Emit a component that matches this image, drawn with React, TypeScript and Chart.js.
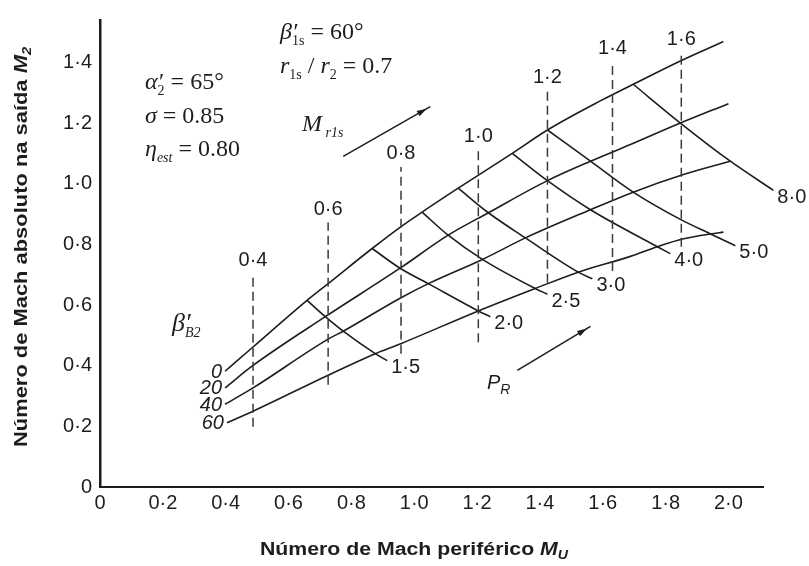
import React, { useEffect, useRef } from 'react';
import { Chart, registerables } from 'chart.js';

Chart.register(...registerables);

// ---- Data: outlet absolute Mach number M2 versus peripheral Mach number MU ----

// Curves of constant blade angle beta'_B2 (degrees)
const betaLabels = ['0', '20', '40', '60'];
const beta0X = [0.398, 0.487, 0.659, 0.726, 0.866, 0.955, 1.025, 1.14, 1.312, 1.424, 1.592, 1.697, 1.847, 1.984];
const beta0Y = [0.382, 0.462, 0.616, 0.671, 0.787, 0.857, 0.907, 0.986, 1.101, 1.178, 1.274, 1.329, 1.406, 1.47];
const beta20X = [0.398, 0.487, 0.717, 0.955, 1.108, 1.236, 1.424, 1.561, 1.688, 1.847, 2.0];
const beta20Y = [0.327, 0.401, 0.562, 0.722, 0.831, 0.905, 1.011, 1.075, 1.13, 1.201, 1.265];
const beta40X = [0.398, 0.487, 0.726, 0.774, 0.955, 1.045, 1.217, 1.354, 1.561, 1.697, 1.857, 2.006];
const beta40Y = [0.273, 0.327, 0.488, 0.514, 0.623, 0.671, 0.751, 0.822, 0.915, 0.973, 1.031, 1.075];
const beta60X = [0.404, 0.487, 0.726, 0.876, 0.955, 1.204, 1.385, 1.522, 1.688, 1.774, 1.857, 1.943, 1.984];
const beta60Y = [0.212, 0.25, 0.369, 0.44, 0.472, 0.581, 0.655, 0.709, 0.761, 0.793, 0.819, 0.835, 0.841];

// Curves of constant pressure ratio P_R
const prLabels = ['1·5', '2·0', '2·5', '3·0', '4·0', '5·0', '8·0'];
const pr15X = [0.659, 0.717, 0.774, 0.876, 0.914];
const pr15Y = [0.616, 0.562, 0.514, 0.44, 0.417];
const pr20X = [0.866, 0.955, 1.045, 1.204, 1.242];
const pr20Y = [0.787, 0.722, 0.671, 0.581, 0.562];
const pr25X = [1.025, 1.108, 1.217, 1.385, 1.424];
const pr25Y = [0.907, 0.831, 0.751, 0.655, 0.636];
const pr30X = [1.14, 1.236, 1.354, 1.522, 1.567];
const pr30Y = [0.986, 0.905, 0.822, 0.709, 0.687];
const pr40X = [1.312, 1.424, 1.561, 1.774, 1.815];
const pr40Y = [1.101, 1.011, 0.915, 0.793, 0.77];
const pr50X = [1.424, 1.561, 1.697, 1.847, 1.943, 2.022];
const pr50Y = [1.178, 1.075, 0.973, 0.883, 0.835, 0.796];
const pr80X = [1.697, 1.847, 2.006, 2.143];
const pr80Y = [1.329, 1.201, 1.075, 0.979];

// Lines of constant inducer relative Mach number M_r1s (dashed)
const mr1sLabels = ['0·4', '0·6', '0·8', '1·0', '1·2', '1·4', '1·6'];
const mr1sX = [0.487, 0.726, 0.958, 1.204, 1.424, 1.631, 1.85];
const mr1sTop = [0.703, 0.873, 1.056, 1.114, 1.307, 1.403, 1.435];
const mr1sBottom = [0.199, 0.337, 0.44, 0.478, 0.674, 0.713, 0.793];

// Axis ticks
const xTickValues = [0, 0.2, 0.4, 0.6, 0.8, 1.0, 1.2, 1.4, 1.6, 1.8, 2.0];
const yTickValues = [0, 0.2, 0.4, 0.6, 0.8, 1.0, 1.2, 1.4];

// Direction arrows (start and end in axis units)
const mr1sArrowX = [0.774, 1.051];
const mr1sArrowY = [1.091, 1.255];
const prArrowX = [1.328, 1.561];
const prArrowY = [0.385, 0.53];

const INK = '#1d1d1d';
const SANS = "'Liberation Sans', Arial, Helvetica, sans-serif";
const SERIF = "'Liberation Serif', 'Times New Roman', serif";

const fmt = (v: number) => (v === 0 ? '0' : v.toFixed(1).replace('.', '\u00B7'));
const pts = (xs: number[], ys: number[]) => xs.map((x, i) => ({ x, y: ys[i] }));

type Run = { t: string; f: string; dy?: number; adv?: number };

function runsWidth(ctx: CanvasRenderingContext2D, runs: Run[]) {
  let w = 0;
  for (const r of runs) {
    ctx.font = r.f;
    w += r.adv !== undefined ? r.adv : ctx.measureText(r.t).width;
  }
  return w;
}

function drawRuns(ctx: CanvasRenderingContext2D, x: number, y: number, runs: Run[]) {
  let cx = x;
  for (const r of runs) {
    ctx.font = r.f;
    ctx.fillText(r.t, cx, y + (r.dy || 0));
    cx += r.adv !== undefined ? r.adv : ctx.measureText(r.t).width;
  }
  return cx;
}

// Centered text, stretched horizontally to a given width
function drawStretched(ctx: CanvasRenderingContext2D, cx: number, baseline: number, width: number, runs: Run[]) {
  const w = runsWidth(ctx, runs);
  const sx = width / w;
  ctx.save();
  ctx.translate(cx, baseline);
  ctx.scale(sx, 1);
  drawRuns(ctx, -w / 2, 0, runs);
  ctx.restore();
}

function arrow(ctx: CanvasRenderingContext2D, x0: number, y0: number, x1: number, y1: number) {
  const a = Math.atan2(y1 - y0, x1 - x0);
  ctx.beginPath();
  ctx.moveTo(x0, y0);
  ctx.lineTo(x1, y1);
  ctx.lineWidth = 1.6;
  ctx.strokeStyle = INK;
  ctx.stroke();
  const L = 10;
  const H = 3;
  const bx = x1 - 4 * Math.cos(a);
  const by = y1 - 4 * Math.sin(a);
  ctx.beginPath();
  ctx.moveTo(bx, by);
  ctx.lineTo(bx - L * Math.cos(a) + H * Math.sin(a), by - L * Math.sin(a) - H * Math.cos(a));
  ctx.lineTo(bx - L * Math.cos(a) - H * Math.sin(a), by - L * Math.sin(a) + H * Math.cos(a));
  ctx.closePath();
  ctx.fillStyle = INK;
  ctx.fill();
}

const betaCurves = [
  { label: betaLabels[0], x: beta0X, y: beta0Y },
  { label: betaLabels[1], x: beta20X, y: beta20Y },
  { label: betaLabels[2], x: beta40X, y: beta40Y },
  { label: betaLabels[3], x: beta60X, y: beta60Y },
];
const prCurves = [
  { label: prLabels[0], x: pr15X, y: pr15Y },
  { label: prLabels[1], x: pr20X, y: pr20Y },
  { label: prLabels[2], x: pr25X, y: pr25Y },
  { label: prLabels[3], x: pr30X, y: pr30Y },
  { label: prLabels[4], x: pr40X, y: pr40Y },
  { label: prLabels[5], x: pr50X, y: pr50Y },
  { label: prLabels[6], x: pr80X, y: pr80Y },
];

const figureText = {
  id: 'figureText',
  afterDatasetsDraw(chart: any) {
    const ctx: CanvasRenderingContext2D = chart.ctx;
    const xs = chart.scales.x;
    const ys = chart.scales.y;
    const px = (v: number) => xs.getPixelForValue(v);
    const py = (v: number) => ys.getPixelForValue(v);
    ctx.save();
    ctx.fillStyle = INK;

    // M_r1s values above dashed lines
    ctx.font = `20px ${SANS}`;
    ctx.textAlign = 'center';
    ctx.textBaseline = 'middle';
    mr1sLabels.forEach((lab, i) => ctx.fillText(lab, px(mr1sX[i]), py(mr1sTop[i]) - 13));

    // P_R values at curve ends
    ctx.textAlign = 'left';
    prCurves.forEach((c) => {
      const n = c.x.length - 1;
      ctx.fillText(c.label, px(c.x[n]) + 4, py(c.y[n]) + 7);
    });

    // beta'_B2 values at curve starts
    ctx.font = `italic 20px ${SANS}`;
    ctx.textAlign = 'right';
    betaCurves.forEach((c) => ctx.fillText(c.label, px(c.x[0]) - 3, py(c.y[0]) + 1));

    // Arrows
    arrow(ctx, px(mr1sArrowX[0]), py(mr1sArrowY[0]), px(mr1sArrowX[1]), py(mr1sArrowY[1]));
    arrow(ctx, px(prArrowX[0]), py(prArrowY[0]), px(prArrowX[1]), py(prArrowY[1]));

    // Parameter annotations
    ctx.textAlign = 'left';
    ctx.textBaseline = 'alphabetic';
    const big = `24px ${SERIF}`;
    const bigI = `italic 24px ${SERIF}`;
    const sub = `italic 14px ${SERIF}`;
    const subU = `14px ${SERIF}`;
    drawRuns(ctx, 145, 89, [
      { t: '\u03B1', f: bigI },
      { t: '\u2032', f: bigI, adv: 0 },
      { t: '2', f: subU, dy: 6 },
      { t: ' = 65\u00B0', f: big },
    ]);
    drawRuns(ctx, 145, 123, [
      { t: '\u03C3', f: bigI },
      { t: ' = 0.85', f: big },
    ]);
    drawRuns(ctx, 145, 156, [
      { t: '\u03B7', f: bigI },
      { t: 'est', f: sub, dy: 6 },
      { t: ' = 0.80', f: big },
    ]);
    drawRuns(ctx, 280, 39, [
      { t: '\u03B2', f: bigI },
      { t: '\u2032', f: bigI, adv: 0 },
      { t: '1s', f: subU, dy: 6 },
      { t: ' = 60\u00B0', f: big },
    ]);
    drawRuns(ctx, 280, 73, [
      { t: 'r', f: bigI },
      { t: '1s', f: subU, dy: 6 },
      { t: ' / ', f: big },
      { t: 'r', f: bigI },
      { t: '2', f: subU, dy: 6 },
      { t: ' = 0.7', f: big },
    ]);
    drawRuns(ctx, 302, 131, [
      { t: 'M', f: bigI },
      { t: ' ', f: subU },
      { t: 'r1s', f: sub, dy: 6 },
    ]);
    drawRuns(ctx, 172, 331, [
      { t: '\u03B2', f: `italic 26px ${SERIF}` },
      { t: '\u2032', f: `italic 26px ${SERIF}`, adv: 0 },
      { t: 'B2', f: sub, dy: 6 },
    ]);
    drawRuns(ctx, 487, 389, [
      { t: 'P', f: `italic 20px ${SANS}` },
      { t: 'R', f: `italic 14px ${SANS}`, dy: 5 },
    ]);

    // Axis titles
    drawStretched(ctx, 414, 555, 308, [
      { t: 'Número de Mach periférico ', f: `bold 18px ${SANS}` },
      { t: 'M', f: `italic bold 18px ${SANS}` },
      { t: 'U', f: `italic bold 12px ${SANS}`, dy: 4 },
    ]);
    ctx.save();
    ctx.translate(20, 247);
    ctx.rotate(-Math.PI / 2);
    drawStretched(ctx, 0, 6.5, 400, [
      { t: 'Número de Mach absoluto na saída ', f: `bold 18px ${SANS}` },
      { t: 'M', f: `italic bold 18px ${SANS}` },
      { t: '2', f: `italic bold 12px ${SANS}`, dy: 4 },
    ]);
    ctx.restore();

    ctx.restore();
  },
};

export default function App() {
  const ref = useRef<HTMLCanvasElement | null>(null);

  useEffect(() => {
    const canvas = ref.current;
    if (!canvas) return;

    const curveStyle = {
      borderColor: INK,
      borderWidth: 1.6,
      pointRadius: 0,
      fill: false,
      cubicInterpolationMode: 'monotone' as const,
    };

    const datasets: any[] = [];
    mr1sLabels.forEach((lab, i) => {
      datasets.push({
        label: `M_r1s ${lab}`,
        data: [
          { x: mr1sX[i], y: mr1sBottom[i] },
          { x: mr1sX[i], y: mr1sTop[i] },
        ],
        borderColor: '#3a3a3a',
        borderWidth: 1.5,
        borderDash: [9, 5],
        pointRadius: 0,
        fill: false,
      });
    });
    betaCurves.forEach((c) => {
      datasets.push({ label: `beta ${c.label}`, data: pts(c.x, c.y), ...curveStyle });
    });
    prCurves.forEach((c) => {
      datasets.push({ label: `PR ${c.label}`, data: pts(c.x, c.y), ...curveStyle, clip: false });
    });

    const chart = new Chart(canvas, {
      type: 'line',
      data: { datasets },
      options: {
        animation: false,
        responsive: false,
        devicePixelRatio: 1,
        layout: { padding: { top: 7, right: 46, left: 0, bottom: 0 } },
        plugins: {
          legend: { display: false },
          tooltip: { enabled: false },
        },
        scales: {
          x: {
            type: 'linear',
            min: 0,
            max: 2.11,
            grid: { display: true, color: 'rgba(0,0,0,0)', drawTicks: false },
            border: { display: true, color: INK, width: 2 },
            ticks: {
              color: INK,
              font: { family: SANS, size: 20 },
              padding: 4,
              maxRotation: 0,
              autoSkip: false,
              callback: (v: any) => fmt(Number(v)),
            },
            afterBuildTicks: (axis: any) => {
              axis.ticks = xTickValues.map((value) => ({ value }));
            },
            afterFit: (axis: any) => {
              axis.height = 79;
            },
          },
          y: {
            type: 'linear',
            min: 0,
            max: 1.541,
            grid: { display: true, color: 'rgba(0,0,0,0)', drawTicks: false },
            border: { display: true, color: INK, width: 2.5 },
            ticks: {
              color: INK,
              font: { family: SANS, size: 20 },
              padding: 8,
              autoSkip: false,
              callback: (v: any) => fmt(Number(v)),
            },
            afterBuildTicks: (axis: any) => {
              axis.ticks = yTickValues.map((value) => ({ value }));
            },
            afterFit: (axis: any) => {
              axis.width = 100;
            },
          },
        },
      },
      plugins: [figureText],
    });

    return () => chart.destroy();
  }, []);

  return (
    <div style={{ position: 'absolute', left: 0, top: 0, width: 809, height: 566, background: '#fff' }}>
      <canvas ref={ref} width={809} height={566} style={{ display: 'block', width: 809, height: 566 }} />
    </div>
  );
}
